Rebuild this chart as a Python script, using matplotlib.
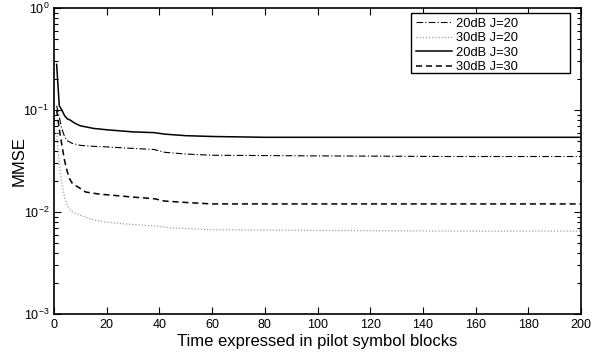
import matplotlib
matplotlib.use("Agg")
import matplotlib.pyplot as plt
from matplotlib.patches import Rectangle
from matplotlib.ticker import LogLocator, NullFormatter

plt.rcParams['font.family'] = ['Liberation Sans', 'DejaVu Sans']
plt.rcParams['mathtext.fontset'] = 'custom'
plt.rcParams['mathtext.rm'] = 'Liberation Sans'

# Data
t_20J20 = [1, 2, 3, 4, 5, 7, 10, 15, 20, 30, 38, 42, 50, 60, 100, 150, 200]
v_20J20 = [0.11, 0.085, 0.065, 0.055, 0.05, 0.047, 0.045, 0.044, 0.0435, 0.042,
           0.041, 0.0385, 0.037, 0.036, 0.0355, 0.035, 0.035]

t_30J20 = [1, 2, 3, 4, 5, 7, 10, 14, 19, 28, 38, 44, 60, 100, 150, 200]
v_30J20 = [0.06, 0.03, 0.019, 0.014, 0.0115, 0.0100, 0.0093, 0.0085, 0.0080,
           0.0076, 0.0073, 0.0070, 0.0067, 0.0066, 0.0065, 0.0065]

t_20J30 = [1, 2, 3, 4, 5, 6, 8, 10, 15, 20, 30, 38, 42, 50, 60, 80, 100, 150, 200]
v_20J30 = [0.28, 0.11, 0.1, 0.088, 0.082, 0.08, 0.074, 0.07, 0.066, 0.064, 0.061,
           0.06, 0.058, 0.056, 0.055, 0.054, 0.054, 0.054, 0.054]

t_30J30 = [1, 2, 3, 4, 5, 6, 7, 10, 12, 17, 30, 38, 42, 50, 60, 100, 200]
v_30J30 = [0.1, 0.065, 0.045, 0.032, 0.025, 0.021, 0.019, 0.017, 0.0157, 0.015,
           0.014, 0.0135, 0.0128, 0.0124, 0.012, 0.012, 0.012]

labels = ['20dB J=20', '30dB J=20', '20dB J=30', '30dB J=30']
xticks = list(range(0, 201, 20))

W, H = 612, 358
L, R, T, B = 54, 581, 8, 314
fig = plt.figure(figsize=(W / 100, H / 100), dpi=100)
ax = fig.add_axes([L / W, 1 - B / H, (R - L) / W, (B - T) / H])

ax.plot(t_20J20, v_20J20, color='black', lw=0.8, ls=(0, (6, 2, 1, 2)), label=labels[0])
ax.plot(t_30J20, v_30J20, color='#a0a0a0', lw=0.9, ls=(0, (1, 1.5)), label=labels[1])
ax.plot(t_20J30, v_20J30, color='black', lw=1.1, ls='-', label=labels[2])
ax.plot(t_30J30, v_30J30, color='black', lw=1.1, ls=(0, (4, 2.5)), label=labels[3])

ax.set_yscale('log')
ax.set_xlim(0, 200)
ax.set_ylim(1e-3, 1e0)
ax.set_xticks(xticks)
ax.yaxis.set_major_locator(LogLocator(base=10, numticks=10))
ax.yaxis.set_minor_locator(LogLocator(base=10, subs=range(2, 10), numticks=20))
ax.yaxis.set_minor_formatter(NullFormatter())

ax.tick_params(axis='both', which='both', direction='in', top=True, right=True,
               labelsize=9, width=0.8)
ax.tick_params(axis='both', which='major', length=5)
ax.tick_params(axis='y', which='minor', length=3)
for s in ax.spines.values():
    s.set_linewidth(1.2)

ax.set_xlabel('Time expressed in pilot symbol blocks', fontsize=12, labelpad=2)
ax.set_ylabel('MMSE', fontsize=12)
ax.yaxis.set_label_coords((27 - L) / (R - L), 0.5)

def ax_x(px):
    return (px - L) / (R - L)

def ax_y(py):
    return (B - py) / (B - T)

leg = ax.legend(loc='upper left', fontsize=9.3, frameon=False,
                handlelength=2.85, borderpad=0.35, borderaxespad=0,
                labelspacing=0.2, handletextpad=0.3,
                bbox_to_anchor=(ax_x(411), ax_y(13)), bbox_transform=ax.transAxes)
leg.set_zorder(5)
ax.add_patch(Rectangle((ax_x(411), ax_y(73)), ax_x(570) - ax_x(411), ax_y(13) - ax_y(73),
                       transform=ax.transAxes, facecolor='white', edgecolor='black',
                       lw=1.0, zorder=4))

fig.savefig('out.png', dpi=100)
